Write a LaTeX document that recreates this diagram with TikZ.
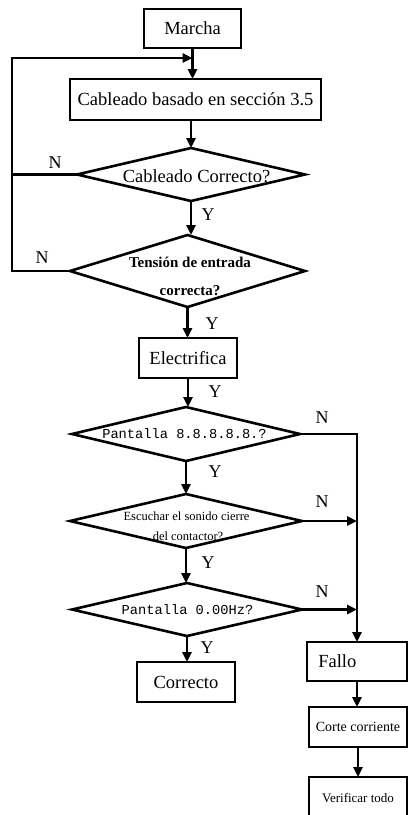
\documentclass[tikz,border=0pt]{standalone}
\usepackage{fontspec}
\setmainfont{Liberation Serif}
\setmonofont{Liberation Mono}
\usetikzlibrary{arrows.meta,shapes.geometric}
\begin{document}
\begin{tikzpicture}[x=1pt,y=-1pt,
  line width=2.6pt,
  box/.style={draw,rectangle,inner sep=0pt,outer sep=0pt,font=\fontsize{18.5}{20}\selectfont},
  txt/.style={inner sep=0pt,font=\fontsize{18.5}{20}\selectfont},
  dia/.style={draw,diamond,inner sep=0pt,outer sep=0pt},
  arr/.style={-{Triangle[length=10pt,width=9pt]}},
  lab/.style={font=\fontsize{18}{20}\selectfont,inner sep=0pt},
  mono/.style={font=\fontsize{13.7}{15}\ttfamily,inner sep=0pt},
  ]
\useasboundingbox (0,0) rectangle (408,815);
% boxes
\node[box,minimum width=97pt,minimum height=39pt] (marcha) at (192.5,28.5) {Marcha};
\node[box,minimum width=251pt,minimum height=41pt] (cab) at (195.5,99.5) {Cableado basado en sección 3.5};
\node[box,minimum width=98pt,minimum height=40pt] (elec) at (188,358) {Electrifica};
\node[box,minimum width=98pt,minimum height=40pt] (corr) at (186,682) {Correcto};
\node[box,minimum width=100pt,minimum height=39pt] (fallo) at (357,661.5) {};
\node[txt,anchor=west] (fallot) at (317,661.5) {Fallo};
\node[box,minimum width=98pt,minimum height=40pt,font=\fontsize{14}{16}\selectfont] (corte) at (358,727) {Corte corriente};
\node[box,minimum width=98pt,minimum height=42pt,font=\fontsize{13}{15}\selectfont] (verif) at (358,798) {Verificar todo};
% diamonds
\node[dia,minimum width=228pt,minimum height=53pt] (d1) at (191,174.5) {};
\node[lab,font=\fontsize{18.5}{20}\selectfont] (d1t) at (196.5,176) {Cableado Correcto?};
\node[dia,minimum width=235pt,minimum height=72pt] (d2) at (187.5,271) {};
\node[lab,font=\fontsize{15}{17}\bfseries] (d2a) at (190,262) {Tensión de entrada};
\node[lab,font=\fontsize{15}{17}\bfseries] (d2b) at (190,291) {correcta?};
\node[dia,minimum width=228pt,minimum height=54pt] (d3) at (186,434) {};
\node[mono] (d3t) at (184.5,434) {Pantalla 8.8.8.8.8.?};
\node[dia,minimum width=232pt,minimum height=54pt] (d4) at (186,521) {};
\node[lab,font=\fontsize{12.5}{14}\selectfont] (d4a) at (186.5,516) {Escuchar el sonido cierre};
\node[lab,font=\fontsize{12.5}{14}\selectfont] (d4b) at (188,536) {del contactor?};
\node[dia,minimum width=230pt,minimum height=53pt] (d5) at (187,609.5) {};
\node[mono] (d5t) at (187.5,610) {Pantalla 0.00Hz?};
% helper coordinates
\coordinate (jn) at (192.5,58);
\coordinate (lx) at (12,58);
% connectors
\draw[arr] (marcha.south) -- (marcha.south |- cab.north);
\draw[arr] (d1.north |- cab.south) -- (d1.north);
\draw[arr] (d1.south) -- (d1.south |- d2.north);
\draw[arr] (d2.south) -- (d2.south |- elec.north);
\draw[arr] (elec.south) -- (elec.south |- d3.north);
\draw[arr] (d3.south) -- (d3.south |- d4.north);
\draw[arr] (d4.south) -- (d4.south |- d5.north);
\draw[arr] (d5.south) -- (d5.south |- corr.north);
\draw[arr] (d2.west) -| (lx) |- (jn);
\draw (d1.west) -- (d1.west -| lx);
\draw[arr] (d3.east) -| (fallo.north);
\draw[arr] (d4.east) -- (d4.east -| fallo.north);
\draw[arr] (d5.east) -- (d5.east -| fallo.north);
\draw[arr] (fallo.south) -- (fallo.south |- corte.north);
\draw[arr] (corte.south) -- (corte.south |- verif.north);
% labels
\node[lab] (n1) at (55,163) {N};
\node[lab] (n2) at (42,258) {N};
\node[lab] (y1) at (208,215) {Y};
\node[lab] (y2) at (212,324) {Y};
\node[lab] (y3) at (215,392) {Y};
\node[lab] (n3) at (322,418) {N};
\node[lab] (y4) at (215,472) {Y};
\node[lab] (n4) at (322,502) {N};
\node[lab] (y5) at (208,563) {Y};
\node[lab] (n5) at (322,592) {N};
\node[lab] (y6) at (207,648) {Y};
\end{tikzpicture}
\end{document}
